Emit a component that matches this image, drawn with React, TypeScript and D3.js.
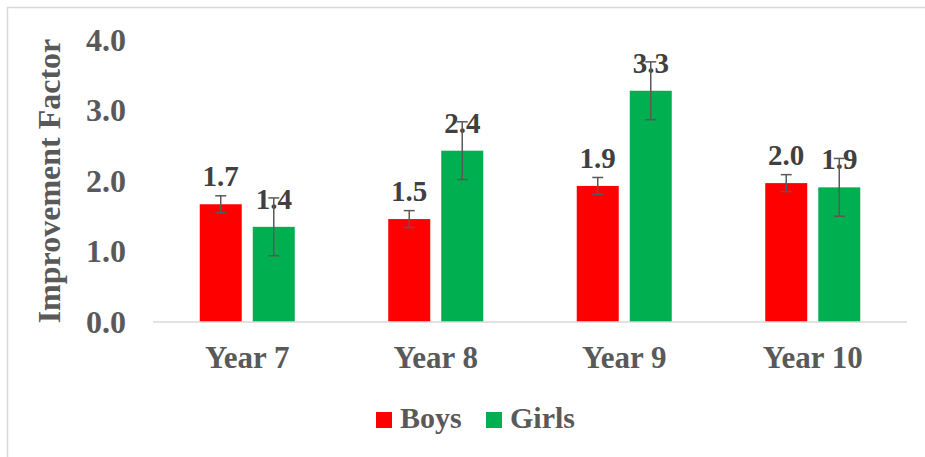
import { useEffect, useRef } from 'react'
import * as d3 from 'd3'

const categories = ['Year 7', 'Year 8', 'Year 9', 'Year 10']
const seriesNames = ['Boys', 'Girls']
const boys = [1.67, 1.46, 1.93, 1.97]
const girls = [1.35, 2.43, 3.28, 1.91]
const boysErr = [0.12, 0.12, 0.12, 0.12]
const girlsErr = [0.41, 0.41, 0.41, 0.41]
const yTicks = [0, 1, 2, 3, 4]

const colors: Record<string, string> = { Boys: '#ff0000', Girls: '#00b050' }
const font = '"Liberation Serif", "Times New Roman", serif'

export default function App() {
  const ref = useRef<SVGSVGElement>(null)

  useEffect(() => {
    if (!ref.current) return
    const svg = d3.select(ref.current)
    svg.selectAll('*').remove()

    const width = 925
    const height = 457

    svg.append('rect')
      .attr('x', 7.5).attr('y', 7.5)
      .attr('width', width).attr('height', height)
      .attr('fill', '#fff')
      .attr('stroke', '#d9d9d9')
      .attr('stroke-width', 1.5)

    const x = d3.scaleBand().domain(categories).range([153, 907])
    const x1 = d3.scaleBand().domain(seriesNames).range([0, 95]).paddingInner(0.208)
    const y = d3.scaleLinear().domain([0, 4]).range([322, 40])

    const rows = categories.map((c, i) => ({
      cat: c,
      vals: [
        { name: 'Boys', v: boys[i], e: boysErr[i] },
        { name: 'Girls', v: girls[i], e: girlsErr[i] },
      ],
    }))

    // y tick labels
    svg.append('g').selectAll('text')
      .data(yTicks)
      .enter()
      .append('text')
      .attr('x', 126)
      .attr('y', d => y(d))
      .attr('dy', '0.34em')
      .attr('text-anchor', 'end')
      .style('font-family', font)
      .style('font-weight', 'bold')
      .style('font-size', '32px')
      .style('fill', '#595959')
      .text(d => d.toFixed(1))

    // axis title
    svg.append('text')
      .attr('transform', `translate(60,${(40 + 322) / 2}) rotate(-90)`)
      .attr('text-anchor', 'middle')
      .style('font-family', font)
      .style('font-weight', 'bold')
      .style('font-size', '32px')
      .style('fill', '#595959')
      .text('Improvement Factor')

    const groups = svg.append('g').selectAll('g')
      .data(rows)
      .enter()
      .append('g')
      .attr('transform', d => `translate(${x(d.cat)! + x.bandwidth() / 2 - 47.5},0)`)

    groups.selectAll('rect')
      .data(d => d.vals)
      .enter()
      .append('rect')
      .attr('x', d => x1(d.name)!)
      .attr('y', d => y(d.v))
      .attr('width', x1.bandwidth())
      .attr('height', d => y(0) - y(d.v))
      .attr('fill', d => colors[d.name])

    // value labels (drawn under the error bars)
    groups.selectAll('text')
      .data(d => d.vals)
      .enter()
      .append('text')
      .attr('x', d => x1(d.name)! + x1.bandwidth() / 2)
      .attr('y', d => y(d.v) - 18)
      .attr('text-anchor', 'middle')
      .style('font-family', font)
      .style('font-weight', 'bold')
      .style('font-size', '29px')
      .style('fill', '#404040')
      .text(d => d.v.toFixed(1))

    // error bars
    const eb = groups.selectAll('g.err')
      .data(d => d.vals)
      .enter()
      .append('g')
      .attr('class', 'err')
      .attr('stroke', '#595959')
      .attr('stroke-width', 1.5)
    eb.append('line')
      .attr('x1', d => x1(d.name)! + x1.bandwidth() / 2)
      .attr('x2', d => x1(d.name)! + x1.bandwidth() / 2)
      .attr('y1', d => y(d.v + d.e))
      .attr('y2', d => y(d.v - d.e))
    eb.append('line')
      .attr('x1', d => x1(d.name)! + x1.bandwidth() / 2 - 5.5)
      .attr('x2', d => x1(d.name)! + x1.bandwidth() / 2 + 5.5)
      .attr('y1', d => y(d.v + d.e))
      .attr('y2', d => y(d.v + d.e))
    eb.append('line')
      .attr('x1', d => x1(d.name)! + x1.bandwidth() / 2 - 5.5)
      .attr('x2', d => x1(d.name)! + x1.bandwidth() / 2 + 5.5)
      .attr('y1', d => y(d.v - d.e))
      .attr('y2', d => y(d.v - d.e))

    // baseline
    svg.append('line')
      .attr('x1', 153).attr('x2', 907)
      .attr('y1', y(0)).attr('y2', y(0))
      .attr('stroke', '#d9d9d9')
      .attr('stroke-width', 1.5)

    // x labels
    svg.append('g').selectAll('text')
      .data(categories)
      .enter()
      .append('text')
      .attr('x', d => x(d)! + x.bandwidth() / 2)
      .attr('y', 368)
      .attr('text-anchor', 'middle')
      .style('font-family', font)
      .style('font-weight', 'bold')
      .style('font-size', '31px')
      .style('fill', '#595959')
      .text(d => d)

    // legend
    const legendX = [376, 486]
    const lg = svg.append('g').selectAll('g')
      .data(seriesNames)
      .enter()
      .append('g')
      .attr('transform', (d, i) => `translate(${legendX[i]},412)`)
    lg.append('rect')
      .attr('width', 16).attr('height', 16)
      .attr('fill', d => colors[d])
    lg.append('text')
      .attr('x', 24)
      .attr('y', 16)
      .style('font-family', font)
      .style('font-weight', 'bold')
      .style('font-size', '30px')
      .style('fill', '#595959')
      .text(d => d)
  }, [])

  return (
    <svg ref={ref} width="925" height="457"
      style={{ position: 'absolute', left: 0, top: 0, display: 'block' }} />
  )
}
